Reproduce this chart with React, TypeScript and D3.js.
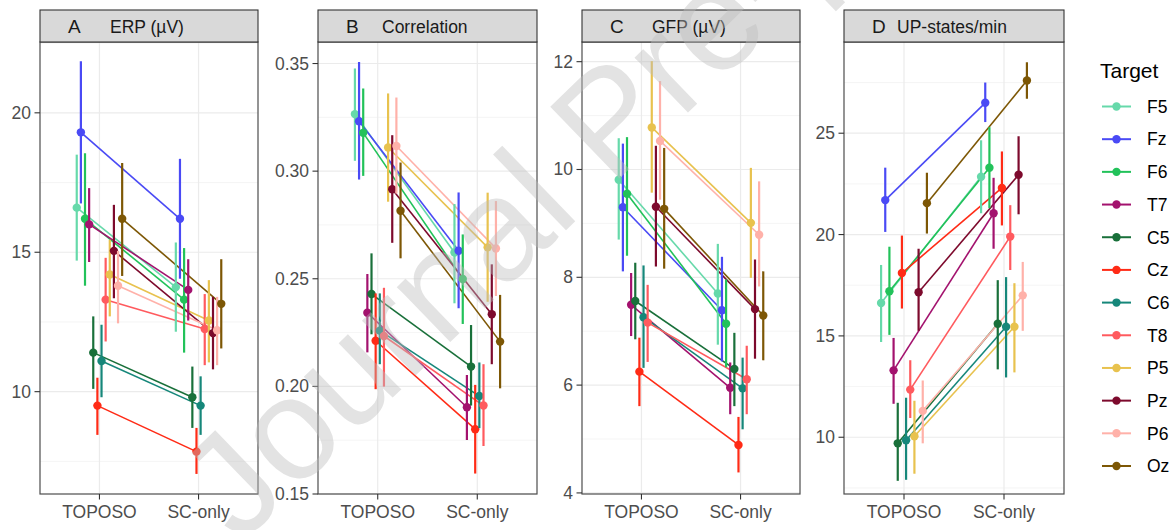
import React from 'react';
import * as d3 from 'd3';

const targets = ['F5', 'Fz', 'F6', 'T7', 'C5', 'Cz', 'C6', 'T8', 'P5', 'Pz', 'P6', 'Oz'];
const targetColors = ['#66D9AA', '#4A4AF5', '#22C25A', '#A3126E', '#19703A', '#FF2B16', '#16877A', '#FF5A5E', '#E8C24E', '#7D0A2D', '#FFB1A9', '#7D5705'];
const conditions = ['TOPOSO', 'SC-only'];

// A: ERP (µV)
const erpTopMean = [16.6, 19.3, 16.2, 16.0, 11.4, 9.5, 11.1, 13.3, 14.2, 15.05, 13.8, 16.2];
const erpTopLo = [14.7, 16.75, 13.8, 14.65, 10.1, 8.45, 9.8, 11.8, 12.7, 13.35, 12.45, 14.15];
const erpTopHi = [18.5, 21.85, 18.55, 17.3, 12.7, 10.5, 12.4, 14.8, 15.45, 16.7, 15.05, 18.2];
const erpScMean = [13.75, 16.2, 13.3, 13.65, 9.8, 7.85, 9.5, 12.25, 12.55, 12.1, 12.2, 13.15];
const erpScLo = [12.15, 14.05, 11.4, 12.55, 8.7, 7.05, 8.45, 10.95, 11.05, 10.8, 10.95, 11.55];
const erpScHi = [15.35, 18.35, 15.15, 14.75, 10.9, 8.7, 10.55, 13.5, 14.0, 13.4, 13.4, 14.75];

// B: Correlation
const corTopMean = [0.3265, 0.3232, 0.3178, 0.2342, 0.2429, 0.2212, 0.2259, 0.2234, 0.311, 0.2916, 0.3117, 0.2816];
const corTopLo = [0.3048, 0.2961, 0.2978, 0.2158, 0.2242, 0.1987, 0.2103, 0.1999, 0.2858, 0.2667, 0.2896, 0.2595];
const corTopHi = [0.3477, 0.3507, 0.3384, 0.2522, 0.2618, 0.2432, 0.2432, 0.2458, 0.3361, 0.3167, 0.3342, 0.304];
const corScMean = [0.2622, 0.263, 0.2499, 0.1903, 0.2092, 0.1801, 0.1955, 0.1911, 0.2646, 0.2335, 0.2641, 0.2208];
const corScLo = [0.2386, 0.2363, 0.229, 0.1751, 0.1911, 0.1595, 0.1806, 0.1723, 0.2393, 0.2103, 0.242, 0.1991];
const corScHi = [0.2847, 0.2901, 0.2706, 0.2053, 0.2285, 0.2007, 0.2111, 0.2103, 0.29, 0.2567, 0.2861, 0.2425];

// C: GFP (µV)
const gfpTopMean = [9.81, 9.3, 9.55, 7.49, 7.56, 6.25, 7.26, 7.16, 10.78, 9.31, 10.53, 9.27];
const gfpTopLo = [8.7, 8.11, 8.4, 6.91, 6.85, 5.61, 6.32, 6.43, 9.57, 8.2, 9.44, 8.16];
const gfpTopHi = [10.58, 10.48, 10.6, 8.08, 8.27, 6.88, 8.22, 7.86, 12.01, 10.44, 11.64, 10.4];
const gfpScMean = [7.7, 7.39, 7.14, 5.95, 6.3, 4.89, 5.94, 6.11, 9.01, 7.41, 8.79, 7.29];
const gfpScLo = [6.75, 6.44, 6.33, 5.46, 5.61, 4.38, 5.18, 5.46, 7.99, 6.49, 7.83, 6.46];
const gfpScHi = [8.62, 8.38, 7.96, 6.42, 6.97, 5.41, 6.51, 6.73, 10.03, 8.33, 9.78, 8.11];

// D: UP-states/min
const upTopMean = [16.62, 21.7, 17.2, 13.3, 9.7, 18.1, 9.85, 12.35, 10.05, 17.15, 11.3, 21.55];
const upTopLo = [14.7, 20.13, 15.05, 11.65, 7.85, 16.35, 7.9, 10.95, 8.2, 15.25, 9.7, 20.05];
const upTopHi = [18.5, 23.3, 19.4, 14.9, 11.7, 19.95, 11.95, 13.8, 11.8, 19.3, 12.8, 23.05];
const upScMean = [22.85, 26.5, 23.3, 21.05, 15.6, 22.3, 15.45, 19.9, 15.45, 22.95, 17.0, 27.6];
const upScLo = [21.05, 25.55, 21.3, 19.3, 13.35, 20.45, 12.95, 18.25, 13.2, 21.0, 15.25, 26.7];
const upScHi = [24.65, 27.5, 25.3, 22.8, 17.75, 24.1, 17.9, 21.45, 17.6, 24.85, 18.65, 28.5];

const panelLetters = ['A', 'B', 'C', 'D'];
const panelTitles = ['ERP (µV)', 'Correlation', 'GFP (µV)', 'UP-states/min'];
const erpTicks = [10, 15, 20];
const corTicks = [0.15, 0.2, 0.25, 0.3, 0.35];
const gfpTicks = [4, 6, 8, 10, 12];
const upTicks = [10, 15, 20, 25];
const watermarkText = 'Journal Pre-proof';

const FONT = "'Liberation Sans', Arial, Helvetica, sans-serif";
const TOP = 42;
const BOTTOM = 494;
const STRIP_TOP = 10;

const panels = [
  { left: 40, right: 258, domain: [6.33, 22.54], ticks: erpTicks, fmt: d3.format('d'), titleX: 70,
    mean: [erpTopMean, erpScMean], lo: [erpTopLo, erpScLo], hi: [erpTopHi, erpScHi] },
  { left: 318, right: 537, domain: [0.15, 0.36], ticks: corTicks, fmt: d3.format('.2f'), titleX: 64,
    mean: [corTopMean, corScMean], lo: [corTopLo, corScLo], hi: [corTopHi, corScHi] },
  { left: 582, right: 800, domain: [3.98, 12.365], ticks: gfpTicks, fmt: d3.format('d'), titleX: 70,
    mean: [gfpTopMean, gfpScMean], lo: [gfpTopLo, gfpScLo], hi: [gfpTopHi, gfpScHi] },
  { left: 844, right: 1064, domain: [7.2, 29.5], ticks: upTicks, fmt: d3.format('d'), titleX: 53,
    mean: [upTopMean, upScMean], lo: [upTopLo, upScLo], hi: [upTopHi, upScHi] },
];

function Panel({ p, idx }: { p: any; idx: number }) {
  const y = d3.scaleLinear().domain(p.domain).range([BOTTOM, TOP]);
  const x = d3.scaleLinear().domain([0.4, 2.6]).range([p.left, p.right]);
  const step = p.ticks[1] - p.ticks[0];
  const minor: number[] = [];
  const lo0 = p.ticks[0] - step;
  for (let v = lo0 + step / 2; v <= p.domain[1]; v += step) {
    if (v >= p.domain[0] && v <= p.domain[1]) minor.push(v);
  }
  const dodge = (i: number) => (i - (targets.length - 1) / 2) * (0.5 / targets.length);
  const xs = (c: number, i: number) => x(c + 1 + dodge(i));
  return (
    <g>
      {minor.map((v) => (
        <line key={'mn' + v} x1={p.left} x2={p.right} y1={y(v)} y2={y(v)} stroke="#F0F0F0" strokeWidth={0.7} />
      ))}
      {p.ticks.map((v: number) => (
        <line key={'mj' + v} x1={p.left} x2={p.right} y1={y(v)} y2={y(v)} stroke="#EBEBEB" strokeWidth={1.2} />
      ))}
      {conditions.map((c, ci) => (
        <line key={'vx' + c} x1={x(ci + 1)} x2={x(ci + 1)} y1={TOP} y2={BOTTOM} stroke="#EBEBEB" strokeWidth={1.2} />
      ))}
      {targets.map((t, i) => (
        <line key={'ln' + t} x1={xs(0, i)} x2={xs(1, i)} y1={y(p.mean[0][i])} y2={y(p.mean[1][i])}
          stroke={targetColors[i]} strokeWidth={1.6} />
      ))}
      {targets.map((t, i) => (
        <g key={'pr' + t}>
          {conditions.map((c, ci) => (
            <g key={c}>
              <line x1={xs(ci, i)} x2={xs(ci, i)} y1={y(p.lo[ci][i])} y2={y(p.hi[ci][i])}
                stroke={targetColors[i]} strokeWidth={2.2} />
              <circle cx={xs(ci, i)} cy={y(p.mean[ci][i])} r={4.2} fill={targetColors[i]} />
            </g>
          ))}
        </g>
      ))}
      <rect x={p.left} y={TOP} width={p.right - p.left} height={BOTTOM - TOP} fill="none" stroke="#4D4D4D" strokeWidth={1.2} />
      <rect x={p.left} y={STRIP_TOP} width={p.right - p.left} height={TOP - STRIP_TOP} fill="#D9D9D9" stroke="#333333" strokeWidth={1.1} />
      <text x={p.left + 28} y={32.5} fontFamily={FONT} fontSize={19} fill="#1A1A1A">{panelLetters[idx]}</text>
      <text x={p.left + p.titleX} y={32.5} fontFamily={FONT} fontSize={17.5} fill="#1A1A1A">{panelTitles[idx]}</text>
      {p.ticks.map((v: number) => (
        <g key={'yt' + v}>
          <line x1={p.left - 5.5} x2={p.left} y1={y(v)} y2={y(v)} stroke="#333333" strokeWidth={1.1} />
          <text x={p.left - 9} y={y(v) + 6} textAnchor="end" fontFamily={FONT} fontSize={17.5} fill="#4D4D4D">{p.fmt(v)}</text>
        </g>
      ))}
      {conditions.map((c, ci) => (
        <g key={'xt' + c}>
          <line x1={x(ci + 1)} x2={x(ci + 1)} y1={BOTTOM} y2={BOTTOM + 5.5} stroke="#333333" strokeWidth={1.1} />
          <text x={x(ci + 1)} y={518} textAnchor="middle" fontFamily={FONT} fontSize={17.5} fill="#4D4D4D">{c}</text>
        </g>
      ))}
    </g>
  );
}

function Legend() {
  const ly = d3.scaleLinear().domain([0, targets.length - 1]).range([106.5, 466]);
  return (
    <g>
      <text x={1100} y={78} fontFamily={FONT} fontSize={21} fill="#000">Target</text>
      {targets.map((t, i) => (
        <g key={'lg' + t}>
          <line x1={1102} x2={1131} y1={ly(i)} y2={ly(i)} stroke={targetColors[i]} strokeWidth={2} />
          <circle cx={1116.5} cy={ly(i)} r={4.2} fill={targetColors[i]} />
          <text x={1147} y={ly(i) + 6.3} fontFamily={FONT} fontSize={17.5} fill="#000">{t}</text>
        </g>
      ))}
    </g>
  );
}

export default function App() {
  return (
    <svg width={1175} height={530} style={{ position: 'absolute', left: 0, top: 0, background: '#fff' }}>
      <rect x={0} y={0} width={1175} height={530} fill="#fff" />
      {panels.map((p, i) => (
        <Panel key={i} p={p} idx={i} />
      ))}
      <Legend />
      <text transform="translate(240,545) rotate(-44)" fontFamily={FONT} fontSize={145} fill="#BDBDBD" opacity={0.42}>
        {watermarkText}
      </text>
    </svg>
  );
}
